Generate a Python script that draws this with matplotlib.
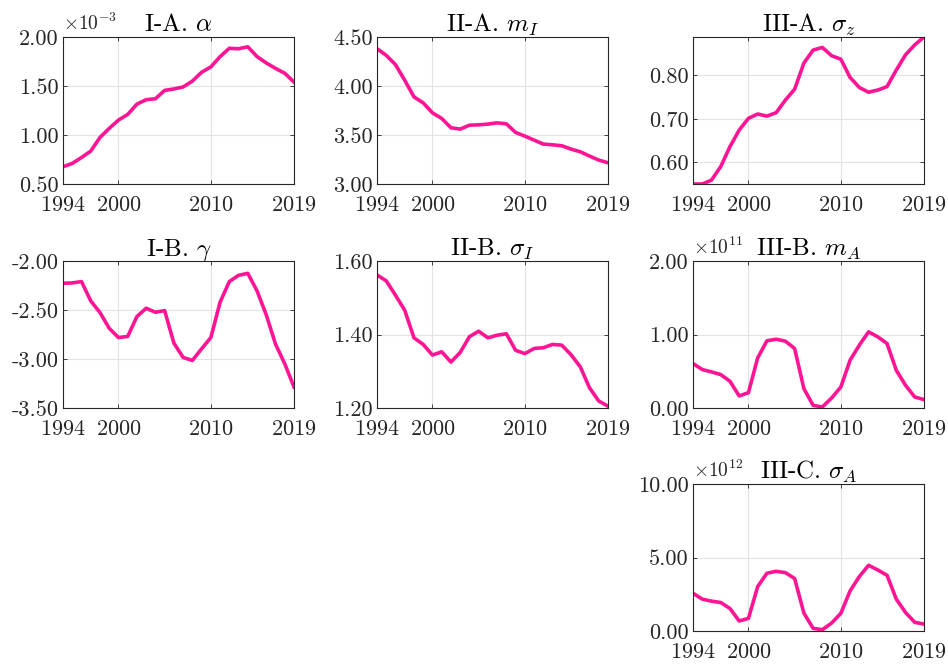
#!/usr/bin/env python3
import matplotlib
matplotlib.use('Agg')
import matplotlib.pyplot as plt
from matplotlib.ticker import FixedLocator, FuncFormatter

plt.rcParams['font.family'] = 'serif'
plt.rcParams['font.serif'] = ['cmr10', 'DejaVu Serif']
plt.rcParams['mathtext.fontset'] = 'cm'
plt.rcParams['axes.unicode_minus'] = False
plt.rcParams['axes.formatter.use_mathtext'] = True

years = list(range(1994, 2020))
xticks = [1994, 2000, 2010, 2019]

# values in the units shown on each axis (see exponents below)
alpha = [0.676, 0.71, 0.77, 0.836, 0.975, 1.067, 1.152, 1.21, 1.315, 1.36,
         1.37, 1.455, 1.47, 1.49, 1.55, 1.64, 1.695, 1.80, 1.885, 1.88,
         1.90, 1.80, 1.735, 1.68, 1.63, 1.54]
m_I = [4.381, 4.313, 4.218, 4.059, 3.889, 3.828, 3.726, 3.669, 3.574, 3.56,
       3.60, 3.604, 3.611, 3.624, 3.614, 3.526, 3.489, 3.448, 3.407, 3.40,
       3.39, 3.356, 3.329, 3.285, 3.244, 3.217]
sigma_z = [0.550, 0.550, 0.559, 0.590, 0.636, 0.674, 0.701, 0.711, 0.706, 0.714,
           0.743, 0.768, 0.828, 0.858, 0.864, 0.845, 0.837, 0.795, 0.772, 0.761,
           0.766, 0.774, 0.812, 0.847, 0.870, 0.888]
gamma = [-2.227, -2.224, -2.21, -2.407, -2.526, -2.686, -2.781, -2.77, -2.567, -2.482,
         -2.523, -2.506, -2.838, -2.984, -3.015, -2.896, -2.781, -2.421, -2.21, -2.146,
         -2.126, -2.305, -2.55, -2.848, -3.049, -3.286]
sigma_I = [1.562, 1.546, 1.507, 1.466, 1.391, 1.373, 1.344, 1.353, 1.325, 1.351,
           1.394, 1.409, 1.391, 1.398, 1.402, 1.357, 1.348, 1.362, 1.364, 1.373,
           1.371, 1.345, 1.312, 1.255, 1.219, 1.205]
m_A = [0.605, 0.523, 0.491, 0.455, 0.364, 0.164, 0.209, 0.682, 0.914, 0.936,
       0.909, 0.809, 0.264, 0.036, 0.014, 0.136, 0.286, 0.65, 0.855, 1.036,
       0.968, 0.877, 0.514, 0.309, 0.15, 0.114]
sigma_A = [2.57, 2.17, 2.03, 1.94, 1.53, 0.68, 0.86, 3.02, 3.93, 4.06,
           3.97, 3.57, 1.22, 0.18, 0.09, 0.54, 1.20, 2.73, 3.70, 4.47,
           4.15, 3.79, 2.17, 1.26, 0.59, 0.47]

panels = [
    # (row, col, title, series, ylim, yticks, exponent)
    (0, 0, r'I-A. $\alpha$', alpha, (0.5, 2.0), [0.5, 1.0, 1.5, 2.0], -3),
    (0, 1, r'II-A. $m_I$', m_I, (3.0, 4.5), [3.0, 3.5, 4.0, 4.5], None),
    (0, 2, r'III-A. $\sigma_z$', sigma_z, (min(sigma_z), max(sigma_z)), [0.6, 0.7, 0.8], None),
    (1, 0, r'I-B. $\gamma$', gamma, (-3.5, -2.0), [-3.5, -3.0, -2.5, -2.0], None),
    (1, 1, r'II-B. $\sigma_I$', sigma_I, (1.2, 1.6), [1.2, 1.4, 1.6], None),
    (1, 2, r'III-B. $m_A$', m_A, (0.0, 2.0), [0.0, 1.0, 2.0], 11),
    (2, 2, r'III-C. $\sigma_A$', sigma_A, (0.0, 10.0), [0.0, 5.0, 10.0], 12),
]

W, H = 948, 665
lefts = [63, 377, 693]
tops = [37, 261, 484]
aw, ah = 231, 147

fig = plt.figure(figsize=(W / 100, H / 100), dpi=100)

for row, col, title, vals, ylim, yticks, expo in panels:
    ax = fig.add_axes([lefts[col] / W, 1 - (tops[row] + ah) / H, aw / W, ah / H])
    ax.plot(years, vals, color='#ff1493', linewidth=2.6, solid_joinstyle='round')
    ax.set_xlim(1994, 2019)
    ax.set_ylim(*ylim)
    ax.xaxis.set_major_locator(FixedLocator(xticks))
    ax.yaxis.set_major_locator(FixedLocator(yticks))
    ax.yaxis.set_major_formatter(FuncFormatter(lambda v, p: f'{v:.2f}'))
    ax.grid(True, color='#e3e3e3', linewidth=0.8)
    ax.set_axisbelow(True)
    ax.tick_params(direction='in', length=3, width=0.6, colors='#262626',
                   labelsize=16, top=True, right=True)
    ax.tick_params(axis='x', pad=8)
    ax.tick_params(axis='y', pad=3)
    for s in ax.spines.values():
        s.set_color('#262626')
        s.set_linewidth(0.8)
    ax.set_title(title, fontsize=18, pad=4, color='black')
    if expo is not None:
        ax.text(0.0, 1.02, r'$\times 10^{%d}$' % expo, transform=ax.transAxes,
                ha='left', va='bottom', fontsize=14, color='#262626')

fig.savefig('out.png', dpi=100)
